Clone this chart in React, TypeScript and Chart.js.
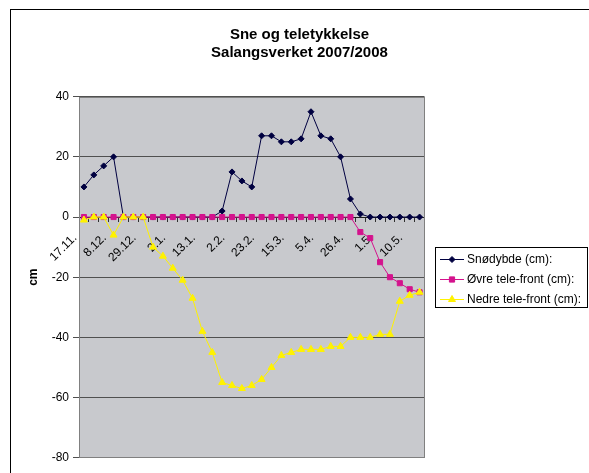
import React, { useEffect, useRef } from "react";
import { Chart, registerables } from "chart.js";

Chart.register(...registerables);

// ---- data ----
const categories = [
  "17.11.", "", "", "8.12.", "", "", "29.12.", "", "", "2.1.", "", "",
  "13.1.", "", "", "2.2.", "", "", "23.2.", "", "", "15.3.", "", "",
  "5.4.", "", "", "26.4.", "", "", "1.5.", "", "", "10.5.", "",
];

const snodybde = [
  10, 14, 17, 20, 0, 0, 0, 0, 0, 0, 0, 0, 0, 0, 2, 15, 12, 10, 27, 27, 25, 25,
  26, 35, 27, 26, 20, 6, 1, 0, 0, 0, 0, 0, 0,
];

const ovreTele = [
  0, 0, 0, 0, 0, 0, 0, 0, 0, 0, 0, 0, 0, 0, 0, 0, 0, 0, 0, 0, 0, 0, 0, 0, 0,
  0, 0, 0, -5, -7, -15, -20, -22, -24, -25,
];

const nedreTele = [
  -1, 0, 0, -6, 0, 0, 0, -10, -13, -17, -21, -27, -38, -45, -55, -56, -57, -56,
  -54, -50, -46, -45, -44, -44, -44, -43, -43, -40, -40, -40, -39, -39, -28,
  -26, -25,
];

const seriesNames = ["Snødybde (cm):", "Øvre tele-front (cm):", "Nedre tele-front (cm):"];
const titleLines = ["Sne og teletykkelse", "Salangsverket 2007/2008"];
const yTitle = "cm";
const yMin = -80;
const yMax = 40;
const yStep = 20;

// ---- styles ----
const FONT = "'Liberation Sans', Arial, Helvetica, sans-serif";
const NAVY = "#000040";
const MAGENTA = "#D4138D";
const YELLOW = "#FFF200";
const PLOT_BG = "#C8C9CD";
const GRID = "#505050";
const PLOT_BORDER = "#808080";
const colors = [NAVY, MAGENTA, YELLOW];
const styles = ["rectRot", "rect", "triangle"];

function drawMarker(ctx: CanvasRenderingContext2D, style: string, x: number, y: number, color: string) {
  ctx.save();
  ctx.fillStyle = color;
  ctx.strokeStyle = color;
  ctx.lineWidth = 1;
  ctx.beginPath();
  if (style === "rectRot") {
    const r = 3;
    ctx.moveTo(x - r, y);
    ctx.lineTo(x, y - r);
    ctx.lineTo(x + r, y);
    ctx.lineTo(x, y + r);
  } else if (style === "rect") {
    const s = 2.6;
    ctx.rect(x - s, y - s, 2 * s, 2 * s);
  } else {
    const r = 4;
    ctx.moveTo(x, y - r);
    ctx.lineTo(x + r * 0.866, y + r / 2);
    ctx.lineTo(x - r * 0.866, y + r / 2);
  }
  ctx.closePath();
  ctx.fill();
  ctx.stroke();
  ctx.restore();
}

const decorPlugin = {
  id: "decor",
  beforeDraw(chart: any) {
    const { ctx, chartArea: a } = chart;
    ctx.save();
    ctx.fillStyle = "#ffffff";
    ctx.fillRect(0, 0, chart.width, chart.height);
    ctx.fillStyle = PLOT_BG;
    ctx.fillRect(a.left, a.top, a.right - a.left, a.bottom - a.top);
    ctx.strokeStyle = "#000000";
    ctx.lineWidth = 1;
    ctx.strokeRect(10.5, 9.5, chart.width + 20, chart.height + 20);
    ctx.restore();
  },
  beforeDatasetsDraw(chart: any) {
    const { ctx, chartArea: a } = chart;
    ctx.save();
    ctx.strokeStyle = PLOT_BORDER;
    ctx.lineWidth = 1;
    ctx.strokeRect(Math.round(a.left) + 0.5, Math.round(a.top) + 0.5, Math.round(a.right - a.left) - 1, Math.round(a.bottom - a.top) - 1);
    ctx.restore();
  },
  afterDraw(chart: any) {
    const { ctx, chartArea: a } = chart;
    const bx = Math.round(a.right + 10);
    const by = Math.round((a.top + a.bottom) / 2 - 30);
    const bw = 152;
    const bh = 60;
    ctx.save();
    ctx.fillStyle = "#ffffff";
    ctx.fillRect(bx, by, bw, bh);
    ctx.strokeStyle = "#000000";
    ctx.lineWidth = 1;
    ctx.strokeRect(bx + 0.5, by + 0.5, bw, bh);
    ctx.font = `12px ${FONT}`;
    ctx.textBaseline = "middle";
    ctx.textAlign = "left";
    seriesNames.forEach((name, i) => {
      const y = by + 12.5 + i * 20;
      ctx.strokeStyle = colors[i];
      ctx.lineWidth = 1;
      ctx.beginPath();
      ctx.moveTo(bx + 5, y);
      ctx.lineTo(bx + 29, y);
      ctx.stroke();
      drawMarker(ctx, styles[i], bx + 17, y, colors[i]);
      ctx.fillStyle = "#000000";
      ctx.fillText(name, bx + 32, y);
    });
    ctx.restore();
  },
};

function makeDataset(label: string, data: number[], color: string, pointStyle: string, radius: number, order: number) {
  return {
    label,
    data,
    yAxisID: "y",
    borderColor: color,
    backgroundColor: color,
    pointBackgroundColor: color,
    pointBorderColor: color,
    borderWidth: 1,
    pointBorderWidth: 1,
    pointStyle,
    pointRadius: radius,
    pointHoverRadius: radius,
    tension: 0,
    fill: false,
    order,
  };
}

export default function App() {
  const canvasRef = useRef<HTMLCanvasElement | null>(null);

  useEffect(() => {
    if (!canvasRef.current) return;
    Chart.defaults.font.family = FONT;
    Chart.defaults.color = "#000000";
    const chart = new Chart(canvasRef.current, {
      type: "line",
      data: {
        labels: categories,
        datasets: [
          makeDataset(seriesNames[0], snodybde, NAVY, "rectRot", 3, 3),
          makeDataset(seriesNames[1], ovreTele, MAGENTA, "rect", 3.6, 2),
          makeDataset(seriesNames[2], nedreTele, YELLOW, "triangle", 4, 1),
        ] as any,
      },
      options: {
        animation: false,
        responsive: false,
        events: [],
        layout: { padding: { left: 10, right: 0, top: 0, bottom: 15.3 } },
        plugins: {
          legend: { display: false },
          tooltip: { enabled: false },
          title: {
            display: true,
            text: titleLines,
            color: "#000000",
            font: { size: 15, weight: "bold", lineHeight: 1.2, family: FONT },
            padding: { top: 26, bottom: 34.7 },
          },
        },
        scales: {
          x: {
            type: "category",
            position: { y: 0 } as any,
            offset: true,
            grid: {
              display: true,
              drawOnChartArea: false,
              drawTicks: true,
              tickLength: 4,
              offset: true,
              color: "#303030",
            },
            border: { display: true, color: "#202020", width: 1 },
            ticks: {
              autoSkip: false,
              maxRotation: 45,
              minRotation: 45,
              padding: 10,
              labelOffset: -9,
              color: "#000000",
              font: { size: 12, family: FONT },
            },
          },
          y: {
            type: "linear",
            position: "left",
            min: yMin,
            max: yMax,
            afterFit: (s: any) => {
              s.width = 69;
            },
            grid: {
              color: GRID,
              lineWidth: 1,
              drawTicks: true,
              tickLength: 6,
            },
            border: { display: true, color: "#505050", width: 1 },
            ticks: {
              stepSize: yStep,
              padding: 4,
              color: "#000000",
              font: { size: 12, family: FONT },
              callback: (v: any) => String(v),
            },
            title: {
              display: true,
              text: yTitle,
              color: "#000000",
              font: { size: 12, weight: "bold", family: FONT },
              padding: { top: 16.5, bottom: 0 },
            },
          },
          yRight: {
            type: "linear",
            position: "right",
            display: true,
            min: yMin,
            max: yMax,
            afterFit: (s: any) => {
              s.width = 164.5;
            },
            grid: { display: false, drawTicks: false },
            border: { display: false },
            ticks: { display: false },
            title: { display: false },
          },
        },
      } as any,
      plugins: [decorPlugin],
    });
    return () => chart.destroy();
  }, []);

  return (
    <div style={{ position: "absolute", left: 0, top: 0, width: 589, height: 473, background: "#fff" }}>
      <canvas ref={canvasRef} width={589} height={473} style={{ display: "block", width: 589, height: 473 }} />
    </div>
  );
}
